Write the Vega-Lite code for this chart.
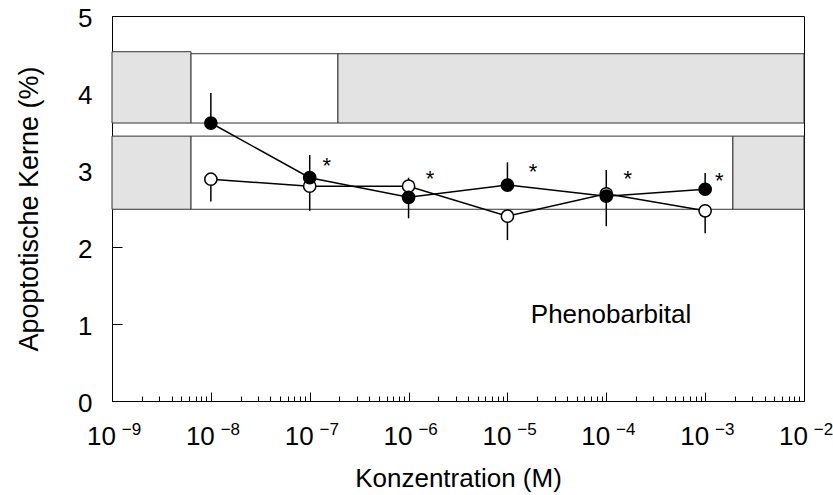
{
  "$schema": "https://vega.github.io/schema/vega-lite/v6.json",
  "width": 692,
  "height": 385,
  "autosize": {"type": "none"},
  "padding": {"left": 112, "top": 16, "right": 29, "bottom": 94},
  "background": "white",
  "config": {
    "font": "Liberation Sans",
    "view": {"stroke": "black", "strokeWidth": 1},
    "axis": {"grid": false, "labelColor": "black", "titleColor": "black", "domainColor": "black", "tickColor": "black", "titleFontWeight": "normal", "labelFont": "Liberation Sans", "titleFont": "Liberation Sans"}
  },
  "datasets": {
    "bands": [
      {"xa": 1e-9, "xb": 6.3e-9, "ya": 3.61, "yb": 4.536, "shade": "grau"},
      {"xa": 6.3e-9, "xb": 1.93e-7, "ya": 3.61, "yb": 4.51, "shade": "weiss"},
      {"xa": 1.93e-7, "xb": 1e-2, "ya": 3.61, "yb": 4.51, "shade": "grau"},
      {"xa": 1e-9, "xb": 6.3e-9, "ya": 2.49, "yb": 3.44, "shade": "grau"},
      {"xa": 6.3e-9, "xb": 1.91e-3, "ya": 2.49, "yb": 3.44, "shade": "weiss"},
      {"xa": 1.91e-3, "xb": 1e-2, "ya": 2.49, "yb": 3.44, "shade": "grau"}
    ],
    "pts": [
      {"conc": 1e-8, "series": "A", "mean": 3.61, "lo": 3.61, "hi": 4.0},
      {"conc": 1e-7, "series": "A", "mean": 2.9, "lo": 2.9, "hi": 3.195},
      {"conc": 1e-6, "series": "A", "mean": 2.645, "lo": 2.373, "hi": 2.645},
      {"conc": 1e-5, "series": "A", "mean": 2.805, "lo": 2.805, "hi": 3.1},
      {"conc": 1e-4, "series": "A", "mean": 2.66, "lo": 2.66, "hi": 3.0},
      {"conc": 1e-3, "series": "A", "mean": 2.75, "lo": 2.75, "hi": 2.96},
      {"conc": 1e-8, "series": "B", "mean": 2.88, "lo": 2.59, "hi": 2.88},
      {"conc": 1e-7, "series": "B", "mean": 2.79, "lo": 2.47, "hi": 2.79},
      {"conc": 1e-6, "series": "B", "mean": 2.79, "lo": 2.79, "hi": 2.9},
      {"conc": 1e-5, "series": "B", "mean": 2.4, "lo": 2.09, "hi": 2.4},
      {"conc": 1e-4, "series": "B", "mean": 2.69, "lo": 2.27, "hi": 2.69},
      {"conc": 1e-3, "series": "B", "mean": 2.47, "lo": 2.18, "hi": 2.47}
    ],
    "stars": [
      {"x": 1.49e-7, "y": 3.11, "label": "*"},
      {"x": 1.65e-6, "y": 2.935, "label": "*"},
      {"x": 1.82e-5, "y": 3.03, "label": "*"},
      {"x": 1.65e-4, "y": 2.93, "label": "*"},
      {"x": 1.39e-3, "y": 2.905, "label": "*"}
    ],
    "note": [
      {"x": 1.117e-4, "y": 1.013, "label": "Phenobarbital"}
    ]
  },
  "layer": [
    {
      "data": {"name": "bands"},
      "mark": {"type": "rect", "stroke": "#333333", "strokeWidth": 1},
      "encoding": {
        "x": {
          "field": "xa", "type": "quantitative",
          "scale": {"type": "log", "domain": [1e-9, 1e-2], "nice": false},
          "axis": {
            "title": "Konzentration (M)",
            "titleFontSize": 26,
            "titlePadding": 12,
            "labelFontSize": 26,
            "labelPadding": 31,
            "labelOffset": -11,
            "labelBaseline": "top",
            "labelFlush": false,
            "labelOverlap": false,
            "domainWidth": 1,
            "tickWidth": 1,
            "tickSize": {"condition": {"test": "abs(log(datum.value)/LN10 - round(log(datum.value)/LN10)) < 0.000001", "value": -9}, "value": -5},
            "values": [1e-9, 2e-9, 3e-9, 4e-9, 5e-9, 6e-9, 7e-9, 8e-9, 9e-9,
                       1e-8, 2e-8, 3e-8, 4e-8, 5e-8, 6e-8, 7e-8, 8e-8, 9e-8,
                       1e-7, 2e-7, 3e-7, 4e-7, 5e-7, 6e-7, 7e-7, 8e-7, 9e-7,
                       1e-6, 2e-6, 3e-6, 4e-6, 5e-6, 6e-6, 7e-6, 8e-6, 9e-6,
                       1e-5, 2e-5, 3e-5, 4e-5, 5e-5, 6e-5, 7e-5, 8e-5, 9e-5,
                       1e-4, 2e-4, 3e-4, 4e-4, 5e-4, 6e-4, 7e-4, 8e-4, 9e-4,
                       1e-3, 2e-3, 3e-3, 4e-3, 5e-3, 6e-3, 7e-3, 8e-3, 9e-3, 1e-2],
            "labelExpr": "abs(log(datum.value)/LN10 - round(log(datum.value)/LN10)) < 0.000001 ? '10' : ''"
          }
        },
        "x2": {"field": "xb"},
        "y": {
          "field": "ya", "type": "quantitative",
          "scale": {"domain": [0, 5], "nice": false},
          "axis": {
            "title": "Apoptotische Kerne (%)",
            "titleFontSize": 27,
            "titlePadding": 34,
            "labelFontSize": 26,
            "labelPadding": 30,
            "labelOffset": 2,
            "values": [0, 1, 2, 3, 4, 5],
            "tickSize": -10,
            "tickWidth": 1,
            "domainWidth": 1,
            "format": "d"
          }
        },
        "y2": {"field": "yb"},
        "fill": {"field": "shade", "type": "nominal", "scale": {"domain": ["grau", "weiss"], "range": ["#e3e3e3", "#ffffff"]}, "legend": null}
      }
    },
    {
      "data": {"name": "pts"},
      "mark": {"type": "line", "stroke": "black", "strokeWidth": 1.5},
      "encoding": {
        "x": {"field": "conc", "type": "quantitative", "scale": {"type": "log", "domain": [1e-9, 1e-2], "nice": false}, "axis": null},
        "y": {"field": "mean", "type": "quantitative", "scale": {"domain": [0, 5], "nice": false}},
        "detail": {"field": "series", "type": "nominal"}
      }
    },
    {
      "data": {"name": "pts"},
      "mark": {"type": "rule", "stroke": "black", "strokeWidth": 1.5},
      "encoding": {
        "x": {"field": "conc", "type": "quantitative", "scale": {"type": "log", "domain": [1e-9, 1e-2], "nice": false}, "axis": null},
        "y": {"field": "lo", "type": "quantitative", "scale": {"domain": [0, 5], "nice": false}},
        "y2": {"field": "hi"}
      }
    },
    {
      "data": {"name": "pts"},
      "transform": [{"calculate": "datum.series == 'A' ? 1 : 0", "as": "order"}],
      "mark": {"type": "point", "shape": "circle", "filled": false, "stroke": "black", "strokeWidth": 1.5, "size": 150, "opacity": 1},
      "encoding": {
        "x": {
          "field": "conc", "type": "quantitative",
          "scale": {"type": "log", "domain": [1e-9, 1e-2], "nice": false},
          "axis": {
            "title": null,
            "orient": "bottom",
            "domain": false,
            "ticks": false,
            "labelFontSize": 17,
            "labelPadding": 20,
            "labelOffset": 19,
            "labelBaseline": "top",
            "labelFlush": false,
            "labelOverlap": false,
            "values": [1e-9, 1e-8, 1e-7, 1e-6, 1e-5, 1e-4, 1e-3, 1e-2],
            "labelExpr": "format(round(log(datum.value)/LN10), 'd')"
          }
        },
        "y": {"field": "mean", "type": "quantitative", "scale": {"domain": [0, 5], "nice": false}},
        "fill": {"field": "series", "type": "nominal", "scale": {"domain": ["A", "B"], "range": ["#000000", "#ffffff"]}, "legend": null},
        "order": {"field": "order", "type": "quantitative"}
      }
    },
    {
      "data": {"name": "stars"},
      "mark": {"type": "text", "fontSize": 22, "align": "center", "baseline": "alphabetic", "dy": 11, "color": "black"},
      "encoding": {
        "x": {"field": "x", "type": "quantitative", "scale": {"type": "log", "domain": [1e-9, 1e-2], "nice": false}, "axis": null},
        "y": {"field": "y", "type": "quantitative", "scale": {"domain": [0, 5], "nice": false}},
        "text": {"field": "label"}
      }
    },
    {
      "data": {"name": "note"},
      "mark": {"type": "text", "fontSize": 26, "align": "center", "baseline": "alphabetic", "color": "black"},
      "encoding": {
        "x": {"field": "x", "type": "quantitative", "scale": {"type": "log", "domain": [1e-9, 1e-2], "nice": false}, "axis": null},
        "y": {"field": "y", "type": "quantitative", "scale": {"domain": [0, 5], "nice": false}},
        "text": {"field": "label"}
      }
    }
  ],
  "resolve": {"axis": {"x": "independent"}, "scale": {"fill": "independent"}}
}
